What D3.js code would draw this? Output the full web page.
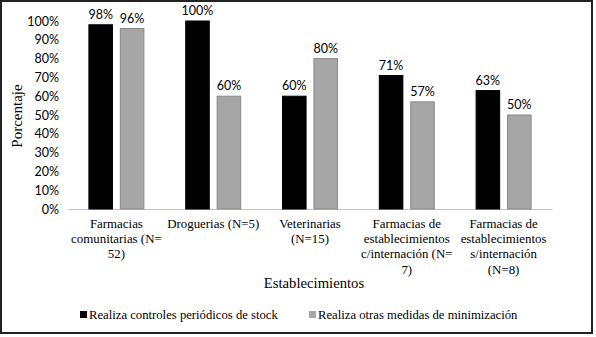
<!DOCTYPE html>
<html><head><meta charset="utf-8">
<script src="https://cdn.jsdelivr.net/npm/d3@7"></script>
<style>body{margin:0;background:#fff}</style>
</head><body>
<svg id="c" width="596" height="337"></svg>
<script>
const categories = [
  ["Farmacias", "comunitarias (N=", "52)"],
  ["Droguerias (N=5)"],
  ["Veterinarias", "(N=15)"],
  ["Farmacias de", "establecimientos", "c/internación (N=", "7)"],
  ["Farmacias de", "establecimientos", "s/internación", "(N=8)"]
];
const seriesNames = ["Realiza controles periódicos de stock", "Realiza otras medidas de minimización"];
const stockValues = [98, 100, 60, 71, 63];
const otherValues = [96, 60, 80, 57, 50];
const yTicks = [0,10,20,30,40,50,60,70,80,90,100];
const colors = ["#000000", "#a6a6a6"];
const strokes = ["#000000", "#8a8a8a"];

const svg = d3.select("#c");
const serif = "Liberation Serif";
const sans = "Lato";

// frame
svg.append("rect").attr("x",1).attr("y",1).attr("width",591).attr("height",332)
  .attr("fill","#fff").attr("stroke","#222").attr("stroke-width",2);

const x0 = d3.scaleBand().domain(d3.range(categories.length)).range([68,552]);
const x1 = d3.scaleBand().domain([0,1]).range([0, 55]).paddingInner(0.25);
const y = d3.scaleLinear().domain([0,100]).range([209,21]);

// y axis labels
const ya = svg.append("g").attr("transform","translate(59,0)")
  .call(d3.axisLeft(y).tickValues(yTicks).tickFormat(d=>d+"%").tickSize(0).tickPadding(0));
ya.select(".domain").remove();
ya.selectAll("text").attr("font-family",sans).attr("font-size",12.5).attr("fill","#000");

// x baseline
const xa = svg.append("g").attr("transform","translate(0,209)")
  .call(d3.axisBottom(x0).tickSize(0).tickFormat(""));
xa.select(".domain").attr("stroke","#c4c4c4").attr("stroke-width",1.2);

const series = [stockValues, otherValues];
series.forEach((vals, s) => {
  const g = svg.append("g");
  g.selectAll("rect").data(vals).join("rect")
    .attr("x",(d,i)=>x0(i)+x0.bandwidth()/2-27.5+x1(s))
    .attr("y",d=>y(d))
    .attr("width",x1.bandwidth())
    .attr("height",d=>y(0)-y(d))
    .attr("fill",colors[s]).attr("stroke",strokes[s]).attr("stroke-width",1);
  g.selectAll("text").data(vals).join("text")
    .attr("x",(d,i)=>x0(i)+x0.bandwidth()/2-27.5+x1(s)+x1.bandwidth()/2)
    .attr("y",d=>y(d)-6)
    .attr("text-anchor","middle")
    .attr("font-family",sans).attr("font-size",12.5).attr("fill","#000")
    .text(d=>d+"%");
});

// category labels
categories.forEach((lines,i)=>{
  const t = svg.append("text").attr("text-anchor","middle").attr("font-family",serif)
    .attr("font-size",12.9).attr("fill","#000");
  lines.forEach((l,j)=>{
    t.append("tspan").attr("x",x0(i)+x0.bandwidth()/2).attr("y",228+j*15.2).text(l);
  });
});

// axis titles
svg.append("text").attr("font-family",serif).attr("x",314).attr("y",288).attr("text-anchor","middle")
  .attr("font-size",14.7).attr("fill","#000").text("Establecimientos");
svg.append("text").attr("font-family",serif).attr("transform","translate(22,116) rotate(-90)").attr("text-anchor","middle")
  .attr("font-size",15).attr("fill","#000").text("Porcentaje");

// legend
const legX = [80, 309];
seriesNames.forEach((n,s)=>{
  svg.append("rect").attr("x",legX[s]).attr("y",311).attr("width",7).attr("height",7)
    .attr("fill",colors[s]);
  svg.append("text").attr("font-family",serif).attr("x",legX[s]+9).attr("y",319)
    .attr("font-size",12.7).attr("fill","#000").text(n);
});
</script>
</body></html>
